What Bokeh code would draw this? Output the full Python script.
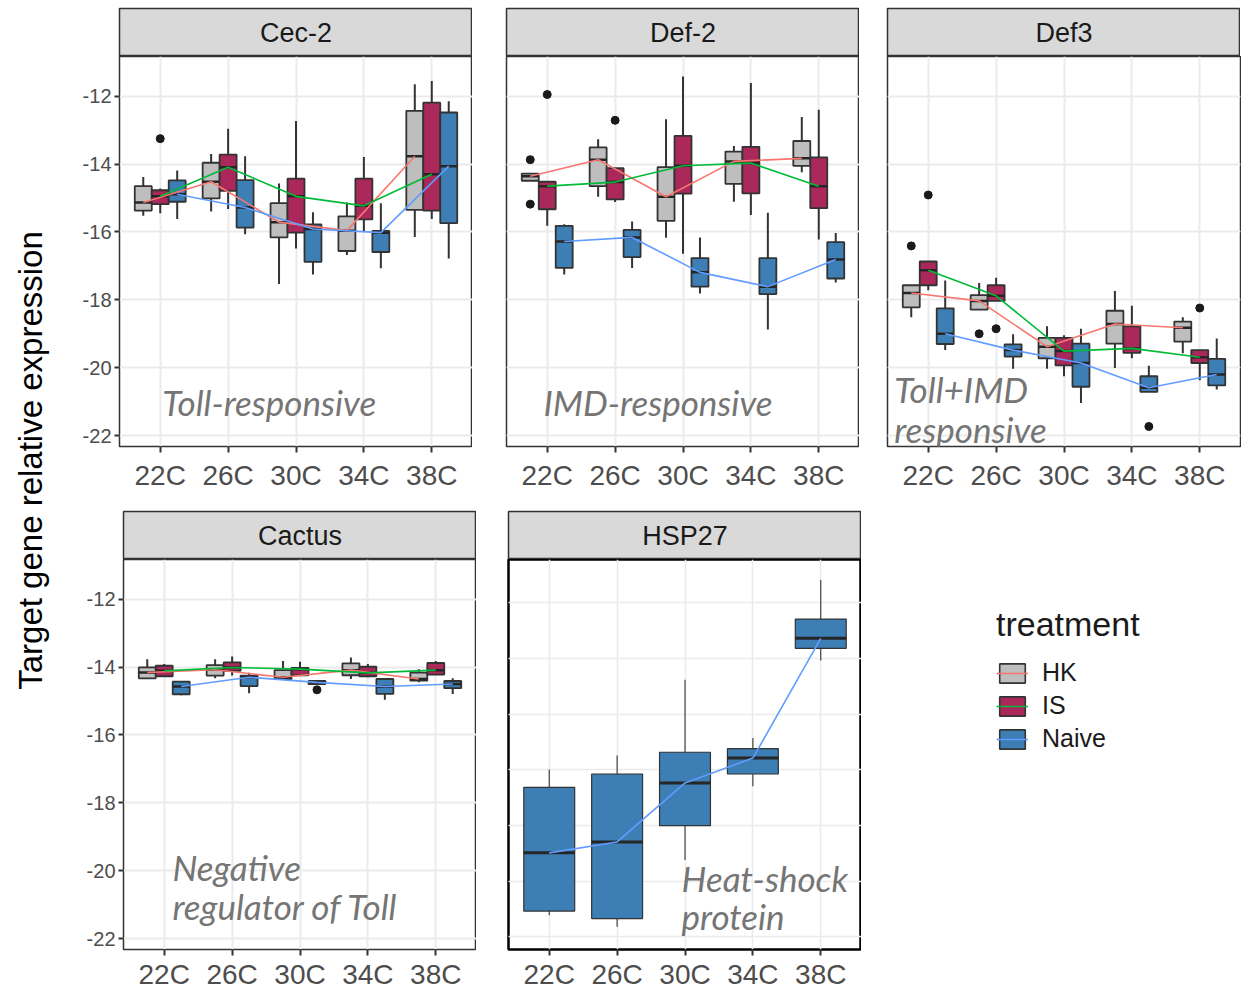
import math
from bokeh.plotting import figure
from bokeh.models import (ColumnDataSource, FactorRange, Range1d, Label, Legend,
                          LegendItem, FixedTicker, Grid)
from bokeh.layouts import row, column
from bokeh.transform import dodge
from bokeh.embed import file_html
from bokeh.resources import INLINE

# ---------------- data ----------------
TEMPS = ["22C", "26C", "30C", "34C", "38C"]
TREATMENTS = ["HK", "IS", "Naive"]

# one tuple per temperature: (lower whisker, Q1, median, Q3, upper whisker)
CEC2_HK = [(-15.52, -15.37, -15.13, -14.65, -14.38), (-15.40, -15.01, -14.52, -13.96, -13.70),
           (-17.53, -16.16, -15.71, -15.15, -14.57), (-16.68, -16.56, -15.96, -15.54, -15.13),
           (-16.15, -15.35, -13.77, -12.43, -11.65)]
CEC2_IS = [(-15.45, -15.18, -14.95, -14.77, -14.72), (-15.32, -14.79, -14.09, -13.72, -12.96),
           (-16.49, -16.02, -14.95, -14.43, -12.73), (-16.00, -15.63, -15.23, -14.43, -13.79),
           (-15.62, -15.37, -14.30, -12.19, -11.55)]
CEC2_NAIVE = [(-15.62, -15.11, -14.89, -14.48, -14.19), (-16.07, -15.87, -15.28, -14.47, -13.77),
              (-17.25, -16.88, -15.91, -15.78, -15.42), (-17.07, -16.59, -16.02, -15.97, -15.15),
              (-16.78, -15.74, -14.06, -12.48, -12.15)]
CEC2_OUT_TEMP = ["22C"]
CEC2_OUT_TRT = ["IS"]
CEC2_OUT_VAL = [-13.25]

DEF2_HK = [(-14.49, -14.49, -14.36, -14.28, -14.28), (-14.96, -14.65, -13.87, -13.51, -13.27),
           (-16.17, -15.67, -14.96, -14.09, -12.68), (-15.11, -14.58, -13.92, -13.63, -13.47),
           (-14.24, -14.05, -13.83, -13.32, -12.61)]
DEF2_IS = [(-15.82, -15.33, -14.65, -14.52, -14.52), (-15.12, -15.04, -14.53, -14.12, -14.12),
           (-16.64, -14.87, -14.05, -13.17, -11.42), (-15.50, -14.86, -13.97, -13.49, -11.61),
           (-16.22, -15.30, -14.65, -13.80, -12.40)]
DEF2_NAIVE = [(-17.25, -17.06, -16.28, -15.82, -15.77), (-17.06, -16.74, -16.16, -15.94, -15.69),
              (-17.81, -17.61, -17.19, -16.77, -16.16), (-18.87, -17.83, -17.61, -16.77, -15.43),
              (-17.49, -17.37, -16.81, -16.30, -16.03)]
DEF2_OUT_TEMP = ["22C", "22C", "22C", "26C"]
DEF2_OUT_TRT = ["HK", "HK", "IS", "IS"]
DEF2_OUT_VAL = [-13.87, -15.18, -11.95, -12.71]

DEF3_HK = [(-18.51, -18.22, -17.80, -17.57, -17.57), (-18.29, -18.29, -18.03, -17.86, -17.50),
           (-20.03, -19.72, -19.38, -19.12, -18.78), (-20.01, -19.29, -18.71, -18.32, -17.74),
           (-19.57, -19.23, -18.82, -18.64, -18.51)]
DEF3_IS = [(-17.72, -17.57, -17.13, -16.87, -16.87), (-18.03, -18.03, -17.88, -17.57, -17.35),
           (-20.25, -19.93, -19.51, -19.12, -19.04), (-19.72, -19.56, -19.43, -18.78, -18.17),
           (-20.37, -19.86, -19.69, -19.48, -19.48)]
DEF3_NAIVE = [(-19.48, -19.30, -19.00, -18.25, -17.43), (-20.03, -19.67, -19.48, -19.31, -19.01),
              (-21.04, -20.56, -19.86, -19.29, -18.85), (-20.71, -20.71, -20.59, -20.25, -19.94),
              (-20.64, -20.52, -20.20, -19.74, -19.14)]
DEF3_OUT_TEMP = ["22C", "22C", "26C", "26C", "34C", "38C"]
DEF3_OUT_TRT = ["HK", "IS", "HK", "IS", "Naive", "IS"]
DEF3_OUT_VAL = [-16.41, -14.91, -19.00, -18.85, -21.73, -18.24]

CACTUS_HK = [(-14.35, -14.33, -14.16, -14.01, -13.77), (-14.33, -14.25, -14.08, -13.94, -13.77),
             (-14.35, -14.35, -14.30, -14.09, -13.82), (-14.35, -14.24, -14.09, -13.89, -13.72),
             (-14.45, -14.40, -14.35, -14.16, -14.06)]
CACTUS_IS = [(-14.27, -14.27, -14.11, -13.96, -13.91), (-14.25, -14.11, -14.01, -13.86, -13.69),
             (-14.24, -14.24, -14.06, -14.02, -13.84), (-14.30, -14.27, -14.17, -13.99, -13.91),
             (-14.22, -14.22, -14.09, -13.88, -13.82)]
CACTUS_NAIVE = [(-14.83, -14.80, -14.57, -14.43, -14.43), (-14.77, -14.56, -14.30, -14.25, -14.17),
                (-14.50, -14.50, -14.45, -14.41, -14.41), (-14.96, -14.79, -14.57, -14.35, -14.35),
                (-14.79, -14.62, -14.50, -14.41, -14.33)]
CACTUS_OUT_TEMP = ["30C"]
CACTUS_OUT_TRT = ["Naive"]
CACTUS_OUT_VAL = [-14.67]

HSP27_NAIVE = [(-21.22, -21.07, -18.98, -16.63, -15.99), (-21.63, -21.34, -18.59, -16.15, -15.49),
               (-19.24, -18.00, -16.47, -15.37, -12.77), (-16.59, -16.15, -15.58, -15.24, -14.86),
               (-12.08, -11.64, -11.28, -10.59, -9.19)]

Y_TICKS = [-22, -20, -18, -16, -14, -12]
Y_TICK_LABELS = ["-22", "-20", "-18", "-16", "-14", "-12"]
HSP27_GRID = [-22, -20, -18, -16, -14, -12, -10]
Y_RANGE = (-22.32, -10.83)
HSP27_RANGE = (-22.45, -8.45)

# ---------------- styles ----------------
FILL = {"HK": "#BEBEBE", "IS": "#AA285A", "Naive": "#3D7EB5"}
LINE = {"HK": "#F8766D", "IS": "#00BA38", "Naive": "#619CFF"}
OFFSET = {"HK": -0.25, "IS": 0.0, "Naive": 0.25}
FW, FH, SH = 353, 390, 48
FONT = "Liberation Sans"


def stats_source(stats):
    lo, q1, med, q3, hi = zip(*stats)
    return ColumnDataSource(dict(temp=TEMPS, lo=list(lo), q1=list(q1), med=list(med),
                                 q3=list(q3), hi=list(hi)))


def make_strip(name, left, top):
    s = figure(frame_width=FW, frame_height=SH, x_range=Range1d(0, 1), y_range=Range1d(0, 1),
               min_border_left=left, min_border_right=0, min_border_top=top, min_border_bottom=0,
               x_axis_location=None, y_axis_location=None, toolbar_location=None,
               output_backend="svg", background_fill_color="#d9d9d9",
               outline_line_color="#333333", outline_line_width=1.5)
    s.grid.visible = False
    s.add_layout(Label(x=0.5, y=0.5, text=name, text_align="center", text_baseline="middle",
                       text_font_size="27px", text_font=FONT, text_color="#1a1a1a"))
    return s


def make_panel(series, out, left, show_y, bottom, yr=Y_RANGE, grid_ticks=Y_TICKS,
               single=False, border_color="#333333", border_width=1.5, right=0, standoff=3):
    p = figure(x_range=FactorRange(factors=TEMPS, range_padding=0.1,
                                   range_padding_units="absolute"),
               y_range=Range1d(*yr), frame_width=FW, frame_height=FH,
               min_border_left=left, min_border_right=right, min_border_top=0,
               min_border_bottom=bottom, y_axis_location="left" if show_y else None,
               toolbar_location=None, output_backend="svg",
               outline_line_color=border_color, outline_line_width=border_width)
    p.xgrid.grid_line_color = "#ebebeb"
    p.xgrid.grid_line_width = 1.5 if single else 2
    if show_y:
        p.yaxis.ticker = FixedTicker(ticks=grid_ticks)
        p.yaxis.major_label_overrides = dict(zip(Y_TICKS, Y_TICK_LABELS))
        p.yaxis.major_label_text_font_size = "20px"
        p.yaxis.major_label_text_font = FONT
        p.yaxis.major_label_text_color = "#4d4d4d"
        p.yaxis.axis_line_color = None
        p.yaxis.minor_tick_line_color = None
        p.yaxis.major_tick_line_color = "#333333"
        p.yaxis.major_tick_line_width = 2
        p.yaxis.major_tick_in = 0
        p.yaxis.major_tick_out = 5
        p.yaxis.major_label_standoff = 3
        p.ygrid.grid_line_color = "#ebebeb"
        p.ygrid.grid_line_width = 2
    else:
        p.add_layout(Grid(dimension=1, ticker=FixedTicker(ticks=grid_ticks),
                          grid_line_color="#ebebeb", grid_line_width=1.5 if single else 2))
    ax = p.xaxis[0]
    ax.major_label_text_font_size = "28px"
    ax.major_label_text_font = FONT
    ax.major_label_text_color = "#4d4d4d"
    ax.axis_line_color = None
    ax.major_tick_line_color = "#333333"
    ax.major_tick_line_width = 2
    ax.major_tick_in = 0
    ax.major_tick_out = 6
    ax.major_label_standoff = standoff

    bw = 0.75 if single else 0.25
    wl = 1.1 if single else 2
    sources = []
    for tr, stats in series:
        src = stats_source(stats)
        off = 0.0 if single else OFFSET[tr]
        xc = dodge("temp", off, range=p.x_range)
        p.segment(x0=xc, x1=xc, y0="q3", y1="hi", source=src, line_color="#333333", line_width=wl)
        p.segment(x0=xc, x1=xc, y0="lo", y1="q1", source=src, line_color="#333333", line_width=wl)
        p.vbar(x=xc, width=bw, top="q3", bottom="q1", source=src, fill_color=FILL[tr],
               line_color="#333333", line_width=1.2 if single else 1.8)
        p.segment(x0=dodge("temp", off - bw / 2, range=p.x_range),
                  x1=dodge("temp", off + bw / 2, range=p.x_range),
                  y0="med", y1="med", source=src, line_color="#262626",
                  line_width=3 if single else 2.5)
        sources.append((tr, src, off))
    if out is not None:
        temps, trts, vals = out
        for tr, src, off in sources:
            xs = [t for t, g in zip(temps, trts) if g == tr]
            ys = [v for v, g in zip(vals, trts) if g == tr]
            if xs:
                osrc = ColumnDataSource(dict(temp=xs, val=ys))
                p.scatter(x=dodge("temp", off, range=p.x_range), y="val", source=osrc,
                          size=8, color="#1a1a1a")
    for tr, src, off in sources:
        p.line(x=dodge("temp", off, range=p.x_range), y="med", source=src,
               line_color=LINE[tr], line_width=1.6)
    return p


def note(p, x, y, text):
    p.add_layout(Label(x=x, y=y, text=text, text_align="left", text_baseline="middle",
                       text_font="Lato", text_font_style="italic", text_font_size="35px",
                       text_color="#757575"))


# ---------------- panels ----------------
L1, L2, L3 = 66, 34, 28
L4, L5 = 70, 32
B1 = 64

p1 = make_panel([("HK", CEC2_HK), ("IS", CEC2_IS), ("Naive", CEC2_NAIVE)],
                (CEC2_OUT_TEMP, CEC2_OUT_TRT, CEC2_OUT_VAL), L1, True, B1, standoff=7)
note(p1, 0.53, -21.0, "Toll-responsive")
p2 = make_panel([("HK", DEF2_HK), ("IS", DEF2_IS), ("Naive", DEF2_NAIVE)],
                (DEF2_OUT_TEMP, DEF2_OUT_TRT, DEF2_OUT_VAL), L2, False, B1, standoff=7)
note(p2, 0.445, -21.0, "IMD-responsive")
p3 = make_panel([("HK", DEF3_HK), ("IS", DEF3_IS), ("Naive", DEF3_NAIVE)],
                (DEF3_OUT_TEMP, DEF3_OUT_TRT, DEF3_OUT_VAL), L3, False, B1, right=1, standoff=7)
note(p3, 0.0, -20.63, "Toll+IMD")
note(p3, 0.0, -21.80, "responsive")
p4 = make_panel([("HK", CACTUS_HK), ("IS", CACTUS_IS), ("Naive", CACTUS_NAIVE)],
                (CACTUS_OUT_TEMP, CACTUS_OUT_TRT, CACTUS_OUT_VAL), L4, True, 0)
note(p4, 0.62, -19.89, "Negative")
note(p4, 0.62, -21.03, "regulator of Toll")
p5 = make_panel([("Naive", HSP27_NAIVE)], None, L5, False, 0, yr=HSP27_RANGE,
                grid_ticks=HSP27_GRID, single=True, border_color="#000000", border_width=2.5)
note(p5, 2.45, -19.89, "Heat-shock")
note(p5, 2.45, -21.25, "protein")

# ---------------- legend ----------------
pl = figure(frame_width=220, frame_height=300, min_border_left=135, min_border_top=95,
            min_border_right=0, min_border_bottom=0, x_range=Range1d(0, 1), y_range=Range1d(0, 1),
            x_axis_location=None, y_axis_location=None, toolbar_location=None,
            output_backend="svg", outline_line_color=None)
pl.grid.visible = False
items = []
for tr in TREATMENTS:
    ksrc = ColumnDataSource(dict(x=[float("nan")], top=[float("nan")], bottom=[float("nan")]))
    kb = pl.vbar(x="x", width=0.1, top="top", bottom="bottom", source=ksrc,
                 fill_color=FILL[tr], line_color="#333333", line_width=1.6)
    kl = pl.line(x="x", y="top", source=ksrc, line_color=LINE[tr], line_width=1.6)
    items.append(LegendItem(label=tr, renderers=[kb, kl]))
legend = Legend(items=items, location="top_left", title="treatment",
                title_text_font_size="34px", title_text_font=FONT, title_text_font_style="normal",
                title_text_color="#1a1a1a", title_standoff=14,
                label_text_font_size="25px", label_text_font=FONT, label_text_color="#1a1a1a",
                glyph_width=32, glyph_height=24, label_height=28, label_standoff=14, spacing=4,
                padding=0, margin=0, border_line_color=None, background_fill_alpha=0)
pl.add_layout(legend)

# ---------------- y title ----------------
pt = figure(frame_width=53, frame_height=985, min_border=0, x_range=Range1d(0, 1),
            y_range=Range1d(0, 1), x_axis_location=None, y_axis_location=None,
            toolbar_location=None, output_backend="svg", outline_line_color=None)
pt.grid.visible = False
pt.add_layout(Label(x=0.566, y=1 - 460 / 985, text="Target gene relative expression",
                    angle=math.pi / 2, text_align="center", text_baseline="middle",
                    text_font=FONT, text_font_size="33px", text_color="#000000"))

row1 = row(column(make_strip("Cec-2", L1, 8), p1), column(make_strip("Def-2", L2, 8), p2),
           column(make_strip("Def3", L3, 8), p3))
row2 = row(column(make_strip("Cactus", L4, 1), p4), column(make_strip("HSP27", L5, 1), p5), pl)
layout = row(pt, column(row1, row2))

open("out.html", "w").write(file_html(layout, INLINE))
